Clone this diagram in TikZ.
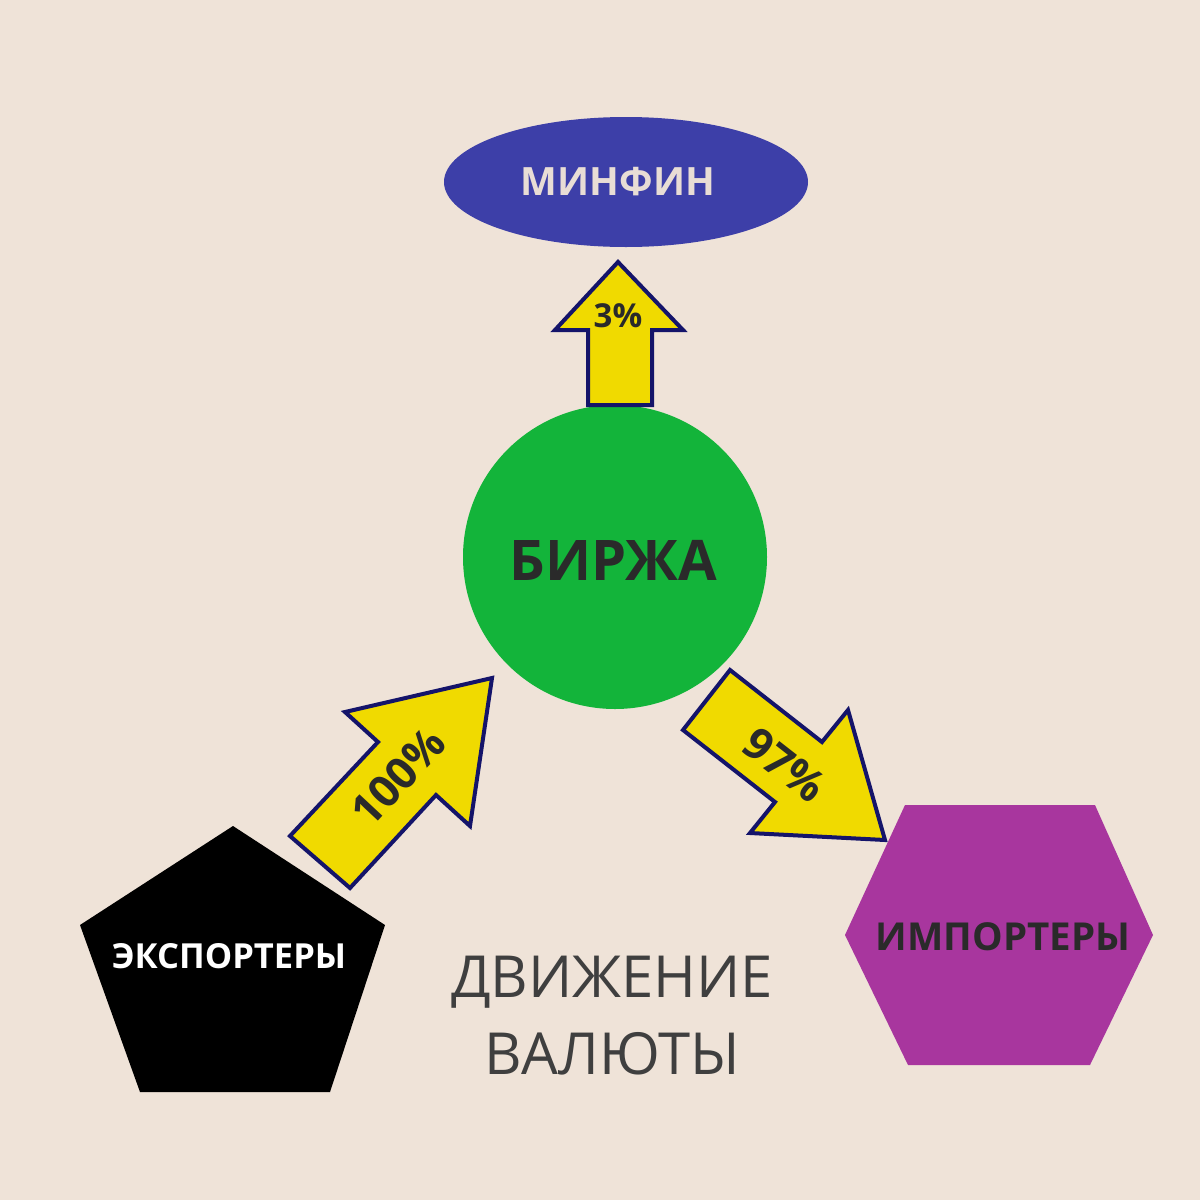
\documentclass[tikz,border=0pt]{standalone}
\usepackage{fontspec}
\setmainfont{Open Sans}
\usetikzlibrary{shapes.geometric}
\definecolor{bg}{HTML}{EFE3D8}
\definecolor{minf}{HTML}{3D3FA8}
\definecolor{birz}{HTML}{13B43A}
\definecolor{imp}{HTML}{A8369E}
\definecolor{arrfill}{HTML}{F0DA00}
\definecolor{arrline}{HTML}{14146A}
\definecolor{dark}{HTML}{2A2A2A}
\definecolor{lighttxt}{HTML}{E8DDD5}
\tikzset{
  flow/.style={fill=arrfill,draw=arrline,line width=4pt,line join=miter},
  lbl/.style={font=\bfseries,text=dark,inner sep=0pt}
}
\begin{document}
\begin{tikzpicture}[x=1pt,y=-1pt]
\fill[bg] (0,0) rectangle (1200,1200);
\useasboundingbox (0,0) rectangle (1200,1200);
% shapes
\fill[minf] (626,182) ellipse [x radius=182,y radius=65];
\node[lbl,text=lighttxt,font=\bfseries\fontsize{39}{44}\selectfont] (minfin) at (618,182) {МИНФИН};
\fill[birz] (615,557) circle (152);
\node[lbl,font=\bfseries\fontsize{56}{62}\selectfont] (birzha) at (613,560) {БИРЖА};
\fill[black] (233,826) -- (385,925) -- (330,1092) -- (140,1092) -- (80,925) -- cycle;
\node[lbl,text=white,font=\bfseries\fontsize{34.5}{38}\selectfont] (exp) at (229,956) {ЭКСПОРТЕРЫ};
\fill[imp] (905,805) -- (1095,805) -- (1153,935) -- (1090,1065) -- (908,1065) -- (845,935) -- cycle;
\node[lbl,font=\bfseries\fontsize{38.5}{42}\selectfont] (impn) at (1003,937) {ИМПОРТЕРЫ};
% arrows
\draw[flow] (588,405) -- (588,330) -- (555,330) -- (618,262) -- (683,330) -- (652,330) -- (652,405) -- cycle;
\node[lbl,font=\bfseries\fontsize{33}{36}\selectfont] (p3) at (618,316) {3\%};
\draw[flow] (290,836) -- (378,742) -- (345,712) -- (492,678) -- (470,826) -- (436,795) -- (350,888) -- cycle;
\node[lbl,rotate=47,font=\bfseries\fontsize{44}{48}\selectfont] (p100) at (398,777) {100\%};
\draw[flow] (730,670) -- (822,742) -- (848,710) -- (885,840) -- (750,833) -- (775,802) -- (683,730) -- cycle;
\node[lbl,rotate=-38,font=\bfseries\fontsize{44}{48}\selectfont] (p97) at (785,765) {97\%};
% title
\node[inner sep=0pt,text=dark!90,align=center,font=\fontsize{58}{77}\selectfont] (title) at (612,1016) {ДВИЖЕНИЕ\\ВАЛЮТЫ};
\end{tikzpicture}
\end{document}
